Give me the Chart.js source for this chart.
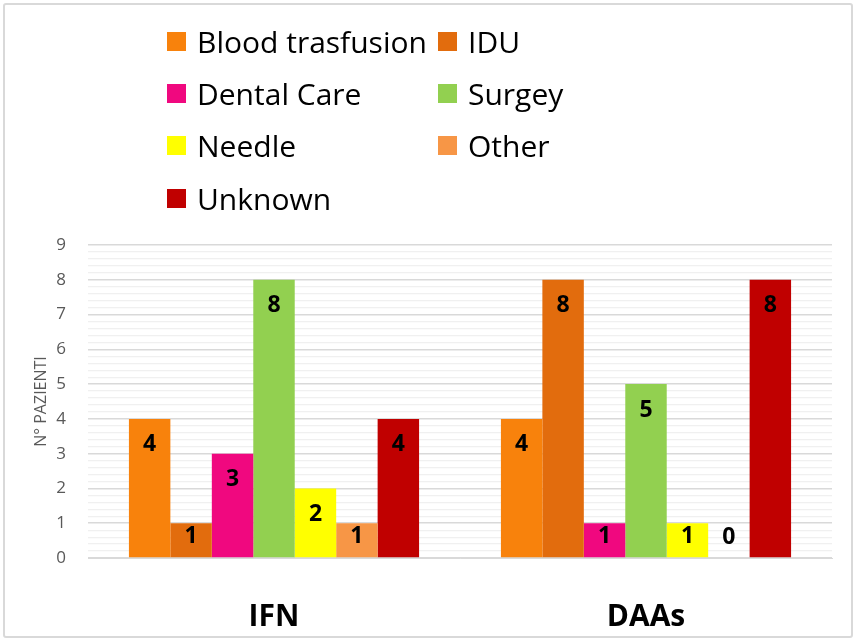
<!DOCTYPE html>
<html>
<head>
<meta charset="utf-8">
<script src="https://cdn.jsdelivr.net/npm/chart.js@4.4.1/dist/chart.umd.min.js"></script>
<style>
  html, body { margin: 0; padding: 0; background: #fff; }
  #wrap { position: relative; width: 858px; height: 641px; }
  #frame { position: absolute; left: 3px; top: 3px; width: 846px; height: 631px;
           border: 2px solid #d9d9d9; border-radius: 3px; pointer-events: none; }
  #legend { position: absolute; left: 167px; top: 15px; display: grid;
            grid-template-columns: 271px auto; grid-auto-rows: 52.3px;
            font-family: "Open Sans", sans-serif; font-size: 30px; color: #000; }
  .item { display: flex; align-items: center; }
  .sw { width: 19px; height: 19px; margin-right: 11px; }
</style>
</head>
<body>
<div id="wrap">
  <canvas id="chart" width="858" height="641"></canvas>
  <div id="legend"></div>
  <div id="frame"></div>
</div>
<script>
const categories = ['IFN', 'DAAs'];
const seriesNames = ['Blood trasfusion', 'IDU', 'Dental Care', 'Surgey', 'Needle', 'Other', 'Unknown'];
const seriesColors = ['#F8820C', '#E26C0D', '#F0087F', '#92D050', '#FFFF00', '#F79646', '#C00000'];
const bloodTrasfusion = [4, 4];
const idu = [1, 8];
const dentalCare = [3, 1];
const surgey = [8, 5];
const needle = [2, 1];
const other = [1, 0];
const unknown = [4, 8];
const seriesValues = [bloodTrasfusion, idu, dentalCare, surgey, needle, other, unknown];
const yTitle = 'N° PAZIENTI';

const isMajor = v => Math.abs(v - Math.round(v)) < 1e-6;

// draws the value inside each bar near its top
const valueLabels = {
    id: 'valueLabels',
    afterDatasetsDraw(chart) {
        const ctx = chart.ctx;
        ctx.save();
        ctx.font = 'bold 23px "Open Sans", sans-serif';
        ctx.fillStyle = '#000';
        ctx.textAlign = 'center';
        ctx.textBaseline = 'middle';
        chart.data.datasets.forEach((ds, i) => {
            chart.getDatasetMeta(i).data.forEach((bar, j) => {
                const y = Math.min(bar.y + 26, bar.base - 21);
                ctx.fillText(ds.data[j], bar.x, y);
            });
        });
        ctx.restore();
    }
};

const chart = new Chart(document.getElementById('chart'), {
    type: 'bar',
    data: {
        labels: categories,
        datasets: seriesNames.map((name, i) => ({
            label: name,
            data: seriesValues[i],
            backgroundColor: seriesColors[i],
            borderWidth: 0,
            categoryPercentage: 0.78,
            barPercentage: 1
        }))
    },
    options: {
        responsive: false,
        animation: false,
        layout: { padding: { top: 245, right: 26, left: 0, bottom: 0 } },
        plugins: {
            legend: { display: false },
            tooltip: { enabled: false }
        },
        scales: {
            x: {
                grid: { display: false },
                border: { display: true, color: '#d9d9d9', width: 1 },
                ticks: {
                    color: '#000',
                    padding: 33,
                    font: { family: '"Open Sans", sans-serif', size: 30, weight: 'bold' }
                },
                afterFit(scale) { scale.height = 83; }
            },
            y: {
                min: 0,
                max: 9,
                border: { display: false },
                grid: {
                    drawTicks: false,
                    color: ctx => isMajor(ctx.tick.value) ? '#d9d9d9' : '#f0f0f0',
                    lineWidth: ctx => isMajor(ctx.tick.value) ? 1.5 : 1.2
                },
                ticks: {
                    stepSize: 0.2,
                    autoSkip: false,
                    padding: 22,
                    color: '#595959',
                    font: { family: '"Open Sans", sans-serif', size: 17 },
                    callback: v => isMajor(v) ? Math.round(v) : ''
                },
                title: {
                    display: true,
                    text: yTitle,
                    color: '#595959',
                    font: { family: '"Open Sans", sans-serif', size: 16 },
                    padding: { top: 32, bottom: 0 }
                },
                afterFit(scale) { scale.width = 88; }
            }
        }
    },
    plugins: [valueLabels]
});

// two-column legend built from the chart's datasets
const legend = document.getElementById('legend');
chart.data.datasets.forEach(ds => {
    const item = document.createElement('div');
    item.className = 'item';
    const sw = document.createElement('span');
    sw.className = 'sw';
    sw.style.background = ds.backgroundColor;
    const txt = document.createElement('span');
    txt.textContent = ds.label;
    item.appendChild(sw);
    item.appendChild(txt);
    legend.appendChild(item);
});
</script>
</body>
</html>
